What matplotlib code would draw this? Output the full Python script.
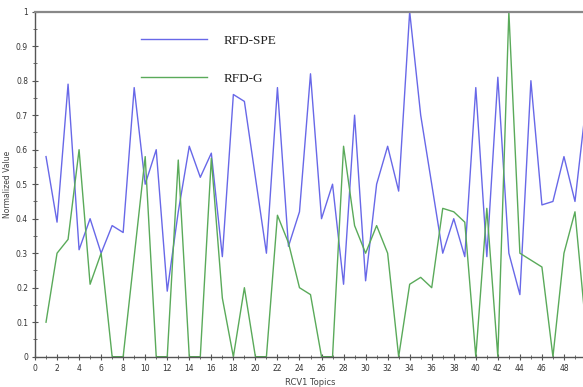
import matplotlib
matplotlib.use("Agg")
import matplotlib.pyplot as plt
import numpy as np

topics = list(range(1, 51))
rfd_spe = [0.58, 0.39, 0.79, 0.31, 0.40, 0.30, 0.38, 0.36, 0.78, 0.50,
           0.60, 0.19, 0.42, 0.61, 0.52, 0.59, 0.29, 0.76, 0.74, 0.52,
           0.30, 0.78, 0.32, 0.42, 0.82, 0.40, 0.50, 0.21, 0.70, 0.22,
           0.50, 0.61, 0.48, 1.00, 0.70, 0.50, 0.30, 0.40, 0.29, 0.78,
           0.29, 0.81, 0.30, 0.18, 0.80, 0.44, 0.45, 0.58, 0.45, 0.73]
rfd_g = [0.10, 0.30, 0.34, 0.60, 0.21, 0.30, 0.00, 0.00, 0.29, 0.58,
         0.00, 0.00, 0.57, 0.00, 0.00, 0.575, 0.17, 0.00, 0.20, 0.00,
         0.00, 0.41, 0.33, 0.20, 0.18, 0.00, 0.00, 0.61, 0.38, 0.30,
         0.38, 0.30, 0.00, 0.21, 0.23, 0.20, 0.43, 0.42, 0.39, 0.00,
         0.43, 0.00, 1.00, 0.30, 0.28, 0.26, 0.00, 0.30, 0.42, 0.08]

fig = plt.figure(figsize=(5.83, 3.87), dpi=100)
W, H = 583, 387
ax = fig.add_axes([35 / W, (H - 356.7) / H, 551 / W, 345 / H])

ax.plot(topics, rfd_spe, color="#6868e8", lw=1.0, label="RFD-SPE")
ax.plot(topics, rfd_g, color="#5aaa5a", lw=1.0, label="RFD-G")

ax.set_xlim(0, 50)
ax.set_ylim(0, 1)
ax.set_xticks(np.arange(0, 50, 2))
ax.set_xticks(np.arange(0, 50, 1), minor=True)
ax.set_yticks(np.round(np.arange(0, 1.01, 0.1), 1))
ax.set_yticks(np.arange(0.05, 1.0, 0.1), minor=True)
ax.set_yticklabels(["0", "0.1", "0.2", "0.3", "0.4", "0.5", "0.6", "0.7", "0.8", "0.9", "1"])
ax.tick_params(axis="both", which="major", direction="inout", length=4, width=0.8,
               labelsize=5.5, labelcolor="#333333", color="#555555", pad=3)
ax.tick_params(axis="both", which="minor", direction="inout", length=2.5, width=0.6,
               color="#555555")

for s in ["left", "bottom"]:
    ax.spines[s].set_color("#555555")
    ax.spines[s].set_linewidth(1.0)
ax.spines["top"].set_color("#888888")
ax.spines["top"].set_linewidth(1.6)
ax.spines["right"].set_visible(False)

ax.set_xlabel("RCV1 Topics", fontsize=6, color="#444444", labelpad=4)
ax.set_ylabel("Normalized Value", fontsize=5.5, color="#444444", labelpad=3)

# legend (no frame)
ax.legend(loc="upper left", bbox_to_anchor=(0.17, 0.968), frameon=False,
          prop={"family": "Liberation Serif", "size": 9.5},
          handlelength=5.0, handletextpad=1.3, labelspacing=1.95,
          labelcolor="#222222")

fig.savefig("out.png", dpi=100)
